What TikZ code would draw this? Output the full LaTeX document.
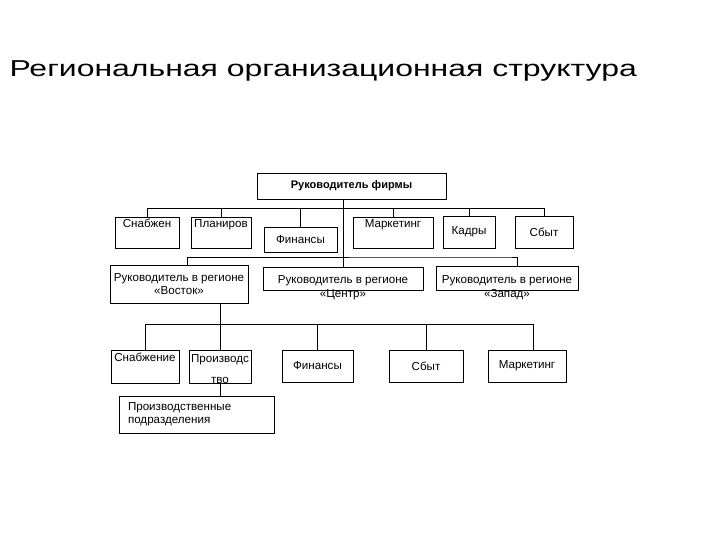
\documentclass[tikz,border=0pt]{standalone}
\usepackage{fontspec}
\setmainfont{Liberation Sans}
\newfontfamily\titlefont[FakeStretch=1.39]{Liberation Sans}
\begin{document}
\begin{tikzpicture}[x=1pt, y=-1pt,
  box/.style = {shape=rectangle, draw, line width=0.7pt, inner sep=0pt,
    align=center, font=\fontsize{11.6}{13}\selectfont},
  toptxt/.style = {text height=11pt, text depth=20pt},
  lbl/.style = {anchor=north, inner sep=0pt, align=center,
    font=\fontsize{11.6}{14}\selectfont}]
  \useasboundingbox (0,0) rectangle (720,540);
  \node[anchor=base west, font=\titlefont\fontsize{23}{27}\selectfont] (title) at (6,77)
    {Региональная организационная структура};
  % top level
  \node[box, minimum width=189pt, minimum height=26pt, font=\bfseries\fontsize{11}{13}\selectfont]
    (boss) at (351.5,186) {Руководитель фирмы};
  \node[box, toptxt, minimum width=64pt] (snab) at (147,232.5) {Снабжен};
  \node[box, toptxt, minimum width=60pt] (plan) at (221,232.5) {Планиров};
  \node[box, minimum width=73pt, minimum height=25pt] (fin) at (300.5,239.5) {Финансы};
  \node[box, toptxt, minimum width=80pt] (mark) at (393,232.5) {Маркетинг};
  \node[box, minimum width=52pt, minimum height=32pt] (kadr) at (469,232) {Кадры};
  \node[box, minimum width=58pt, minimum height=32pt] (sbyt) at (544,232) {Сбыт};
  \coordinate (bus1) at (0,208);
  \draw[line width=0.7pt] (snab.north |- bus1) -- (sbyt.north |- bus1);
  \foreach \n in {snab,plan,fin,mark,kadr,sbyt}
    \draw[line width=0.7pt] (\n.north) -- (\n.north |- bus1);
  % regions
  \node[box, minimum width=138pt, minimum height=38pt] (vost) at (179,284)
    {Руководитель в регионе\\«Восток»};
  \node[box, minimum width=160pt, minimum height=23pt,
    label={[lbl, yshift=-9pt]north:Руководитель в регионе\\«Центр»}] (centr) at (343,278.5) {};
  \node[box, minimum width=142pt, minimum height=24pt,
    label={[lbl, yshift=-10pt]north:Руководитель в регионе\\«Запад»}] (zap) at (507,278) {};
  \coordinate (bus2) at (0,257);
  \draw[line width=0.7pt] ([xshift=8pt]vost.north) |- (bus2 -| zap.north) -- ([xshift=10pt]zap.north |- bus2) -- ([xshift=10pt]zap.north);
  \draw[line width=0.7pt] (centr.north) -- (centr.north |- boss.south);
  % east region
  \node[box, toptxt, minimum width=68pt, text depth=22pt] (snab2) at (145,366.5) {Снабжение};
  \node[box, minimum width=62pt, minimum height=33pt,
    label={[lbl, yshift=-5pt]north:Производс\\[7pt]тво}] (prod) at (220,366.5) {};
  \node[box, minimum width=71pt, minimum height=32pt] (fin2) at (317.5,366) {Финансы};
  \node[box, minimum width=74pt, minimum height=32pt] (sbyt2) at (426,366) {Сбыт};
  \node[box, minimum width=78pt, minimum height=32pt] (mark2) at (527,366) {Маркетинг};
  \coordinate (bus3) at (0,324);
  \draw[line width=0.7pt] (snab2.north |- bus3) -- ([xshift=6pt]mark2.north |- bus3) -- ([xshift=6pt]mark2.north);
  \foreach \n in {snab2,fin2,sbyt2}
    \draw[line width=0.7pt] (\n.north) -- (\n.north |- bus3);
  \draw[line width=0.7pt] (prod.north |- vost.south) -- (prod.north);
  \node[box, minimum width=155pt, minimum height=37pt, text width=137pt, align=left]
    (podr) at (196.5,414.5) {Производственные\\подразделения};
  \draw[line width=0.7pt] (prod.south) -- (prod.south |- podr.north);
\end{tikzpicture}
\end{document}
